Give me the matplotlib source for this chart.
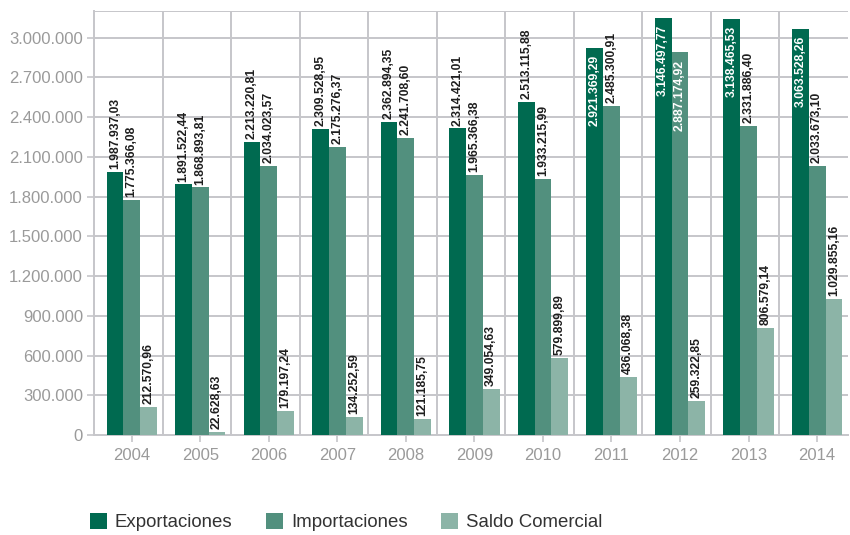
import matplotlib
matplotlib.use("Agg")
import matplotlib.pyplot as plt
import numpy as np
from matplotlib.ticker import FuncFormatter

years = ["2004", "2005", "2006", "2007", "2008", "2009", "2010", "2011", "2012", "2013", "2014"]
exportaciones = [1987937.03, 1891522.44, 2213220.81, 2309528.95, 2362894.35, 2314421.01,
                 2513115.88, 2921369.29, 3146497.77, 3138465.53, 3063528.26]
importaciones = [1775366.08, 1868893.81, 2034023.57, 2175276.37, 2241708.60, 1965366.38,
                 1933215.99, 2485300.91, 2887174.92, 2331886.40, 2033673.10]
saldo = [212570.96, 22628.63, 179197.24, 134252.59, 121185.75, 349054.63,
         579899.89, 436068.38, 259322.85, 806579.14, 1029855.16]
series_names = ["Exportaciones", "Importaciones", "Saldo Comercial"]
colors = ["#006a50", "#52907e", "#8cb4a7"]

plt.rcParams['font.family'] = ['Liberation Sans', 'DejaVu Sans']

def es_num(v, dec=2):
    s = f"{v:,.{dec}f}"
    return s.replace(",", "X").replace(".", ",").replace("X", ".")

fig = plt.figure(figsize=(8.5, 5.35), dpi=100)
ax = fig.add_axes([0.1106, 0.1869, 0.8870, 0.7925])

x = np.arange(len(years))
w = 0.245
ymax = 3200000
data = [exportaciones, importaciones, saldo]
for i, (vals, col, name) in enumerate(zip(data, colors, series_names)):
    pos = x + (i - 1) * w
    ax.bar(pos, vals, width=w, color=col, label=name, zorder=3)
    for p, v in zip(pos, vals):
        txt = es_num(v)
        if v > 2600000:
            ax.annotate(txt, (p, v), xytext=(0, -5), textcoords="offset points",
                        rotation=90, ha="center", va="top", fontsize=8.7,
                        fontweight="bold", color="white", zorder=4)
        else:
            ax.annotate(txt, (p, v), xytext=(0, 2), textcoords="offset points",
                        rotation=90, ha="center", va="bottom", fontsize=8.7,
                        fontweight="bold", color="#1e1e1e", zorder=4)

ax.set_xlim(-0.55, 10.45)
ax.set_ylim(0, ymax)

grid_col = "#c6c6ca"
ax.set_yticks(np.arange(0, 3000001, 300000))
ax.yaxis.set_major_formatter(FuncFormatter(lambda v, p: es_num(v, 0)))
for yv in list(np.arange(300000, 3000001, 300000)) + [ymax]:
    ax.axhline(yv, color=grid_col, lw=1.4, zorder=1)
for k in range(1, 11):
    ax.axvline(-0.55 + k, color=grid_col, lw=1.4, zorder=1)

ax.set_xticks(x)
ax.set_xticklabels(years)

for s in ["top", "right"]:
    ax.spines[s].set_visible(False)
ax.spines["left"].set_color(grid_col)
ax.spines["left"].set_linewidth(1.4)
ax.spines["bottom"].set_color(grid_col)
ax.spines["bottom"].set_linewidth(1.4)
ax.tick_params(axis="both", colors=grid_col, length=5, width=1.2, labelcolor="#9a9a9a",
               labelsize=12)
ax.tick_params(axis="y", pad=3)
ax.tick_params(axis="x", pad=4)

handles, labels = ax.get_legend_handles_labels()
fig.legend(handles, labels, loc="center left", bbox_to_anchor=(0.086, 0.024), ncol=3,
           frameon=False, fontsize=13.4, handlelength=0.9, handleheight=0.9,
           handletextpad=0.45, columnspacing=1.8, labelcolor="#333333")

fig.savefig("out.png", dpi=100)
